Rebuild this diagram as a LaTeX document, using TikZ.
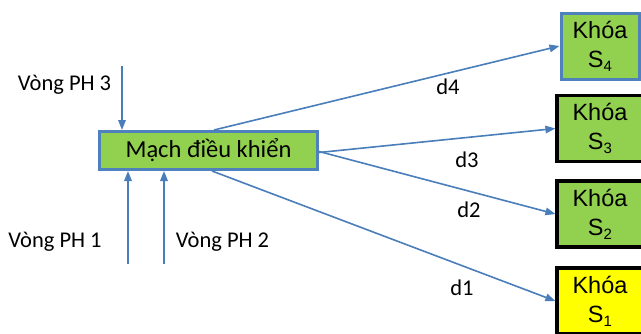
\documentclass[tikz,border=0pt]{standalone}
\usepackage{fontspec}
\setmainfont{Carlito}
\newfontfamily\arialike{Liberation Sans}
\usetikzlibrary{arrows.meta}
\definecolor{leafgreen}{HTML}{92D050}
\definecolor{frameblue}{HTML}{4F81BD}
\definecolor{wireblue}{HTML}{4A7EBB}
\definecolor{lampyellow}{HTML}{FFFF00}
\newcommand{\swname}[1]{Khóa\\S\raisebox{-0.3ex}{\fontsize{15}{15}\selectfont #1}}
\tikzset{
  ctrlbox/.style={draw=frameblue, line width=3pt, fill=leafgreen,
    minimum width=218pt, minimum height=38pt, inner sep=0pt,
    font=\fontsize{24.5}{28}\selectfont},
  keybox/.style={line width=3.2pt, fill=leafgreen,
    minimum width=86pt, minimum height=66pt, inner sep=0pt,
    align=center, font=\arialike\fontsize{23.5}{29}\selectfont},
  lbl/.style={inner sep=0pt, font=\fontsize{22.5}{26}\selectfont},
  wire/.style={draw=wireblue, line width=1.6pt,
    -{Triangle[length=10pt,width=7.5pt]}}
}
\begin{document}
\begin{tikzpicture}[x=1pt,y=-1pt]
  \useasboundingbox (0,0) rectangle (641,333);
  \clip (0,0) rectangle (641,333);

  % controller block
  \node[ctrlbox] (ctrl) at (208.5,150.5) {Mạch điều khiển};

  % switch blocks on the right
  \node[keybox, draw=frameblue, line width=3pt, minimum width=78pt]
    (s4) at (600,46) {\swname{4}};
  \node[keybox, draw=black] (s3) at (600,128.5) {\swname{3}};
  \node[keybox, draw=black] (s2) at (600,214) {\swname{2}};
  \node[keybox, draw=black, fill=lampyellow] (s1) at (600,301) {\swname{1}};

  % feedback loop inputs
  \node[lbl] (ph3) at (64.5,85) {Vòng PH 3};
  \node[lbl] (ph1) at (55,242) {Vòng PH 1};
  \node[lbl] (ph2) at (222.5,242) {Vòng PH 2};
  \coordinate (ph3src) at (122,66);
  \coordinate (ph1src) at (128,264);
  \coordinate (ph2src) at (164,264);
  \draw[wire] (ph3src) -- (ph3src |- ctrl.north);
  \draw[wire] (ph1src) -- (ph1src |- ctrl.south);
  \draw[wire] (ph2src) -- (ph2src |- ctrl.south);

  % control outputs d1..d4
  \draw[wire] ([xshift=116pt]ctrl.north west) -- (s4.west);
  \draw[wire] ([yshift=-2pt]ctrl.east) -- (s3.west);
  \draw[wire] ([yshift=-1pt]ctrl.east) -- (s2.west);
  \draw[wire] ([xshift=114pt]ctrl.south west) -- (s1.west);

  \node[lbl] (d4) at (448,87) {d4};
  \node[lbl] (d3) at (467,160) {d3};
  \node[lbl] (d2) at (469,210) {d2};
  \node[lbl] (d1) at (462,288) {d1};
\end{tikzpicture}
\end{document}
